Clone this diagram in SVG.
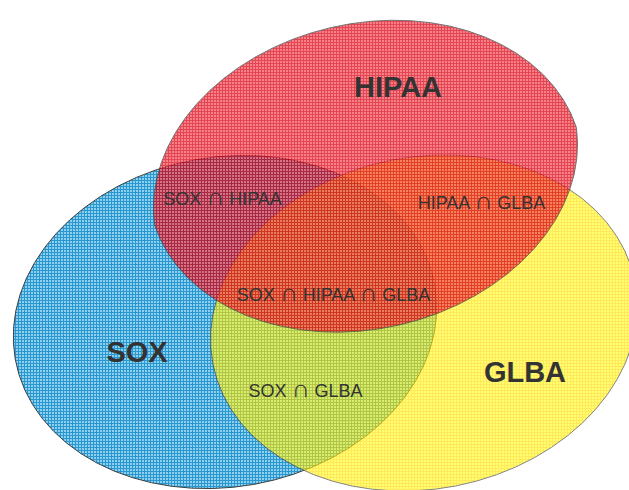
<svg xmlns="http://www.w3.org/2000/svg" width="629" height="490" viewBox="0 0 629 490">
  <defs>
    <!-- fine plaid fills, one per set -->
    <pattern id="plaid-blue" width="3" height="3" patternUnits="userSpaceOnUse">
      <rect width="3" height="3" fill="#8fd0ee"/>
      <rect width="3" height="1" fill="#2a98d0"/>
      <rect width="1" height="3" fill="#2a98d0"/>
    </pattern>
    <pattern id="plaid-yellow" width="3" height="3" patternUnits="userSpaceOnUse">
      <rect width="3" height="3" fill="#ffff20"/>
      <rect width="3" height="1" fill="#ffdc00"/>
      <rect width="1" height="3" fill="#ffdc00"/>
    </pattern>
    <pattern id="plaid-red" width="3" height="3" patternUnits="userSpaceOnUse">
      <rect width="3" height="3" fill="#f4505c"/>
      <rect width="3" height="1" fill="#d80010"/>
      <rect width="1" height="3" fill="#d80010"/>
    </pattern>
    <style>
      .set { stroke: #404040; stroke-width: 1; }
      .title { font-family: "Liberation Sans", Arial, sans-serif; font-weight: bold; font-size: 29px; fill: #333333; text-anchor: middle; }
      .overlap { font-family: "Liberation Sans", Arial, sans-serif; font-size: 18px; fill: #333333; text-anchor: middle; }
      .cap { font-size: 25px; }
    </style>
  </defs>

  <g id="sox">
    <path class="set" fill="url(#plaid-blue)" d="M15.2,359 A213,165 -10 0,1 434.8,285 A213,165 -10 0,1 15.2,359 Z"/>
  </g>

  <g id="glba" opacity="0.64">
    <path class="set" fill="url(#plaid-yellow)" d="M212.9,364.1 A215,166 -11 0,1 635.1,281.9 A215,166 -11 0,1 212.9,364.1 Z"/>
  </g>

  <g id="hipaa" opacity="0.72">
    <path class="set" fill="url(#plaid-red)" d="M154.6,225 A217,164 -13 0,1 576.4,127.4 A217,164 -13 0,1 154.6,225 Z"/>
  </g>

  <g id="labels">
    <text class="title" x="398" y="97">HIPAA</text>
    <text class="title" x="137" y="362">SOX</text>
    <text class="title" x="525" y="382">GLBA</text>
  </g>

  <g id="intersections">
    <text class="overlap" x="222.5" y="205">SOX <tspan class="cap">∩</tspan> HIPAA</text>
    <text class="overlap" x="481.5" y="209">HIPAA <tspan class="cap">∩</tspan> GLBA</text>
    <text class="overlap" x="333.5" y="301">SOX <tspan class="cap">∩</tspan> HIPAA <tspan class="cap">∩</tspan> GLBA</text>
    <text class="overlap" x="305.5" y="397">SOX <tspan class="cap">∩</tspan> GLBA</text>
  </g>
</svg>
